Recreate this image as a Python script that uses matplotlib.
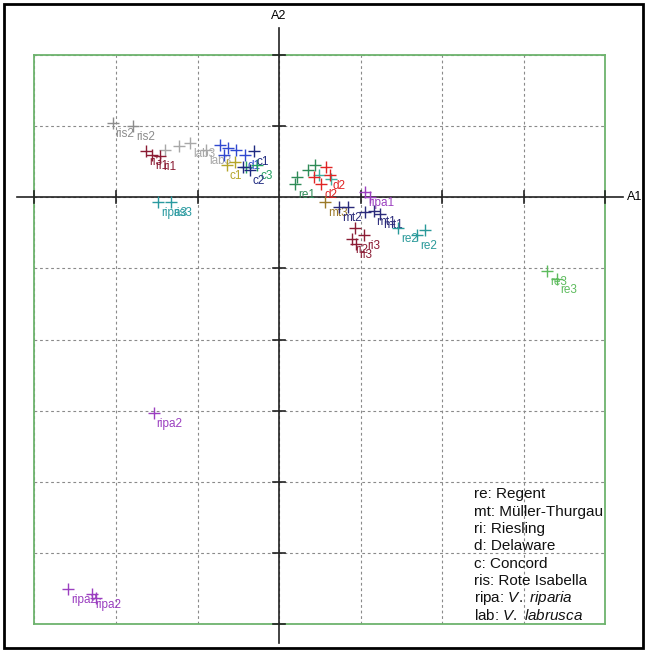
import matplotlib.pyplot as plt
from matplotlib.patches import Rectangle

plt.rcParams['font.family'] = ['Liberation Sans', 'DejaVu Sans']
plt.rcParams['mathtext.fontset'] = 'custom'
plt.rcParams['mathtext.rm'] = 'Liberation Sans'
plt.rcParams['mathtext.it'] = 'Liberation Sans:italic'

# scores on the first two axes (A1, A2), one small set per group
ris_x = [-2.04, -1.79]
ris_y = [1.04, 1.00]
ris_lab = ["ris2", "ris2"]

lab_x = [-1.40, -1.23, -1.09, -0.89]
lab_y = [0.66, 0.72, 0.77, 0.67]
lab_lab = ["", "", "lab3", "lab3"]

ri_x = [-1.63, -1.56, -1.46, 0.93, 0.90, 0.95, 1.04]
ri_y = [0.65, 0.59, 0.58, -0.43, -0.59, -0.66, -0.53]
ri_lab = ["ri3", "ri1", "ri1", "", "ri2", "ri3", "ri3"]

ripa_x = [-1.54, -2.59, -2.29, -2.24, 1.06, 1.11]
ripa_y = [-3.03, -5.51, -5.58, -5.64, 0.08, 0.01]
ripa_lab = ["ripa2", "ripa2", "ripa2", "", "ripa1", ""]

ris3_x = [-1.48, -1.33]
ris3_y = [-0.07, -0.07]
ris3_lab = ["ripa3", "ris3"]

d_x = [-0.73, -0.63, -0.53, -0.42, -0.67]
d_y = [0.73, 0.69, 0.66, 0.59, 0.60]
d_lab = ["", "", "", "d1", ""]

c_x = [-0.31, -0.44, -0.36]
c_y = [0.65, 0.43, 0.38]
c_lab = ["c1", "", "c2"]

cg_x = [-0.40, -0.27]
cg_y = [0.42, 0.45]
cg_lab = ["", "c3"]

cy_x = [-0.64, -0.54]
cy_y = [0.45, 0.49]
cy_lab = ["c1", ""]

reg_x = [0.22, 0.35, 0.44, 0.20]
reg_y = [0.28, 0.39, 0.46, 0.18]
reg_lab = ["", "", "", "re1"]

dr_x = [0.43, 0.57, 0.52, 0.62]
dr_y = [0.28, 0.42, 0.18, 0.31]
dr_lab = ["", "", "d2", "d2"]

ret_x = [0.49, 0.64]
ret_y = [0.32, 0.25]
ret_lab = ["", ""]

mt_x = [0.74, 0.85, 1.06, 1.16, 1.24]
mt_y = [-0.13, -0.14, -0.20, -0.19, -0.24]
mt_lab = ["mt2", "", "", "mt1", "mt1"]

mto_x = [0.56]
mto_y = [-0.07]
mto_lab = ["mt3"]

re_x = [1.46, 1.69, 1.79]
re_y = [-0.43, -0.53, -0.46]
re_lab = ["re2", "re2", ""]

re3_x = [3.29, 3.41]
re3_y = [-1.03, -1.15]
re3_lab = ["re3", "re3"]

groups = [
    (ris_x, ris_y, ris_lab, "#8c8c8c"),
    (lab_x, lab_y, lab_lab, "#a8a8a8"),
    (ri_x, ri_y, ri_lab, "#8b1c34"),
    (ripa_x, ripa_y, ripa_lab, "#9b3fc0"),
    (ris3_x, ris3_y, ris3_lab, "#2a9aa0"),
    (cy_x, cy_y, cy_lab, "#b5a52a"),
    (d_x, d_y, d_lab, "#3048d0"),
    (cg_x, cg_y, cg_lab, "#22a060"),
    (c_x, c_y, c_lab, "#1f2a80"),
    (reg_x, reg_y, reg_lab, "#2e8b57"),
    (ret_x, ret_y, ret_lab, "#3cb0a0"),
    (dr_x, dr_y, dr_lab, "#e02424"),
    (mto_x, mto_y, mto_lab, "#9c7a2a"),
    (mt_x, mt_y, mt_lab, "#2a2a7a"),
    (re_x, re_y, re_lab, "#2a9a9a"),
    (re3_x, re3_y, re3_lab, "#5dbb5d"),
]

legend_lines = [
    "re: Regent",
    "mt: Müller-Thurgau",
    "ri: Riesling",
    "d: Delaware",
    "c: Concord",
    "ris: Rote Isabella",
    r"ripa: $\mathit{V.\ riparia}$",
    r"lab: $\mathit{V.\ labrusca}$",
]

fig = plt.figure(figsize=(6.47, 6.52), dpi=100)
ax = fig.add_axes([0.0533, 0.0429, 0.882, 0.8727])
ax.set_xlim(-3, 4)
ax.set_ylim(-6, 2)
ax.set_xticks(range(-3, 5))
ax.set_yticks(range(-6, 3))
ax.tick_params(length=0, labelbottom=False, labelleft=False)
ax.grid(True, color="#8a8a8a", linestyle=(0, (2.5, 2.5)), linewidth=0.8)
for s in ax.spines.values():
    s.set_color("#6db36d")
    s.set_linewidth(1.3)

# axes through the origin with small ticks
ax.plot([-3.21, 4.22], [0, 0], color="#222222", lw=1.2, clip_on=False, zorder=3)
ax.plot([0, 0], [-6.26, 2.38], color="#222222", lw=1.2, clip_on=False, zorder=3)
for xv in [-3, -2, -1, 1, 2, 3, 4]:
    ax.plot([xv, xv], [-0.085, 0.085], color="#222222", lw=1.2, clip_on=False, zorder=3)
for yv in [-6, -5, -4, -3, -2, -1, 1, 2]:
    ax.plot([-0.075, 0.075], [yv, yv], color="#222222", lw=1.2, clip_on=False, zorder=3)
ax.text(4.27, 0, "A1", fontsize=9, ha="left", va="center", clip_on=False)
ax.text(0, 2.47, "A2", fontsize=9, ha="center", va="bottom", clip_on=False)

for gx, gy, glab, col in groups:
    ax.plot(gx, gy, linestyle="none", marker="+", markersize=8,
            markeredgewidth=1.0, color=col, zorder=4)
    for x, y, t in zip(gx, gy, glab):
        if t:
            ax.annotate(t, (x, y), xytext=(3, -11), textcoords="offset pixels",
                        fontsize=8.5, color=col, ha="left", va="center", zorder=4)

for i, line in enumerate(legend_lines):
    ax.text(0.77, 0.228 - i * 0.0305, line, transform=ax.transAxes,
            fontsize=11, ha="left", va="center", color="#111111")

fig.patches.append(Rectangle((4 / 647, 4 / 652), 639 / 647, 644 / 652,
                             transform=fig.transFigure, fill=False,
                             edgecolor="black", linewidth=2))

fig.savefig("out.png", dpi=100)
